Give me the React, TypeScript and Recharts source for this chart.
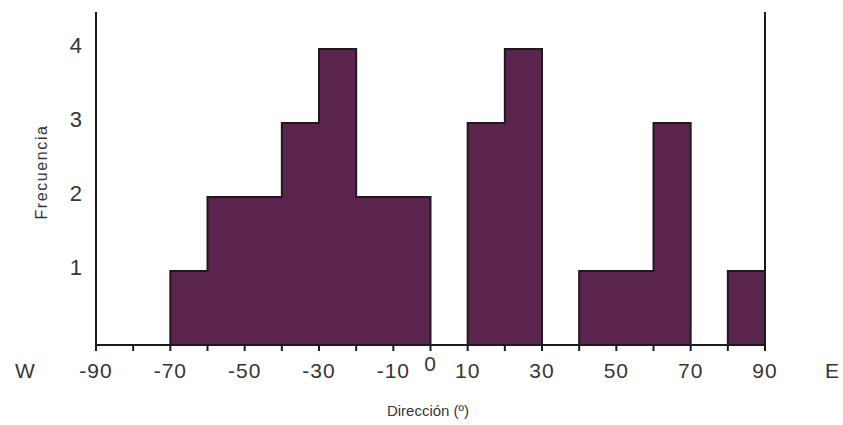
import React from "react";
import { AreaChart, Area, XAxis, YAxis, ReferenceLine } from "recharts";

const binStarts = [-90, -80, -70, -60, -50, -40, -30, -20, -10, 0, 10, 20, 30, 40, 50, 60, 70, 80, 90];
const counts = [0, 0, 1, 2, 2, 3, 4, 2, 2, 0, 3, 4, 0, 1, 1, 3, 0, 1, 0];
const xTicks = [-90, -80, -70, -60, -50, -40, -30, -20, -10, 0, 10, 20, 30, 40, 50, 60, 70, 80, 90];
const xLabels = [-90, -70, -50, -30, -10, 0, 10, 30, 50, 70, 90];
const yTicks = [1, 2, 3, 4];

const data = binStarts.map((x, i) => ({ x, count: counts[i] }));

const FONT = "'Liberation Sans', Arial, sans-serif";
const TEXT = "#363636";
const INK = "#1e1a1c";

const XTick = (props: any) => {
  const { x, y, payload } = props;
  const v = payload.value;
  if (!xLabels.includes(v)) return null;
  const raise = v === 0 ? 7 : 0;
  return (
    <text
      x={x}
      y={y + 25 - raise}
      textAnchor="middle"
      fontFamily={FONT}
      fontSize={21}
      letterSpacing={1}
      fill={TEXT}
    >
      {v}
    </text>
  );
};

const YTick = (props: any) => {
  const { x, y, payload } = props;
  return (
    <text
      x={x - 14}
      y={y + 4}
      textAnchor="end"
      fontFamily={FONT}
      fontSize={22}
      fill={TEXT}
    >
      {payload.value}
    </text>
  );
};

export default function App() {
  return (
    <div style={{ position: "absolute", left: 0, top: 0, width: 843, height: 425, background: "#fff" }}>
      <AreaChart
        width={843}
        height={425}
        data={data}
        margin={{ top: 12, right: 78, bottom: 50, left: 36 }}
      >
        <XAxis
          dataKey="x"
          type="number"
          domain={[-90, 90]}
          ticks={xTicks}
          interval={0}
          tick={<XTick />}
          tickLine={{ stroke: INK, strokeWidth: 2 }}
          tickSize={6}
          axisLine={{ stroke: INK, strokeWidth: 2 }}
          height={30}
          allowDataOverflow
        />
        <YAxis
          type="number"
          domain={[0, 4.5]}
          ticks={yTicks}
          interval={0}
          width={60}
          tick={<YTick />}
          tickLine={false}
          tickSize={0}
          tickMargin={0}
          axisLine={{ stroke: INK, strokeWidth: 2 }}
          allowDataOverflow
        />
        <Area
          type="stepAfter"
          dataKey="count"
          stroke={INK}
          strokeWidth={2}
          fill="#5b244e"
          fillOpacity={1}
          isAnimationActive={false}
          dot={false}
          activeDot={false}
        />
        <ReferenceLine x={90} stroke={INK} strokeWidth={2} />
      </AreaChart>
      <svg
        width={843}
        height={425}
        style={{ position: "absolute", left: 0, top: 0, pointerEvents: "none" }}
      >
        <text x={25} y={378} textAnchor="middle" fontFamily={FONT} fontSize={21} fill={TEXT}>
          W
        </text>
        <text x={832} y={378} textAnchor="middle" fontFamily={FONT} fontSize={21} fill={TEXT}>
          E
        </text>
        <text
          x={0}
          y={0}
          transform="translate(47,172) rotate(-90)"
          textAnchor="middle"
          fontFamily={FONT}
          fontSize={16}
          letterSpacing={1.6}
          fill={TEXT}
        >
          Frecuencia
        </text>
        <text x={428} y={416} textAnchor="middle" fontFamily={FONT} fontSize={15} fill={TEXT}>
          Dirección (º)
        </text>
      </svg>
    </div>
  );
}
